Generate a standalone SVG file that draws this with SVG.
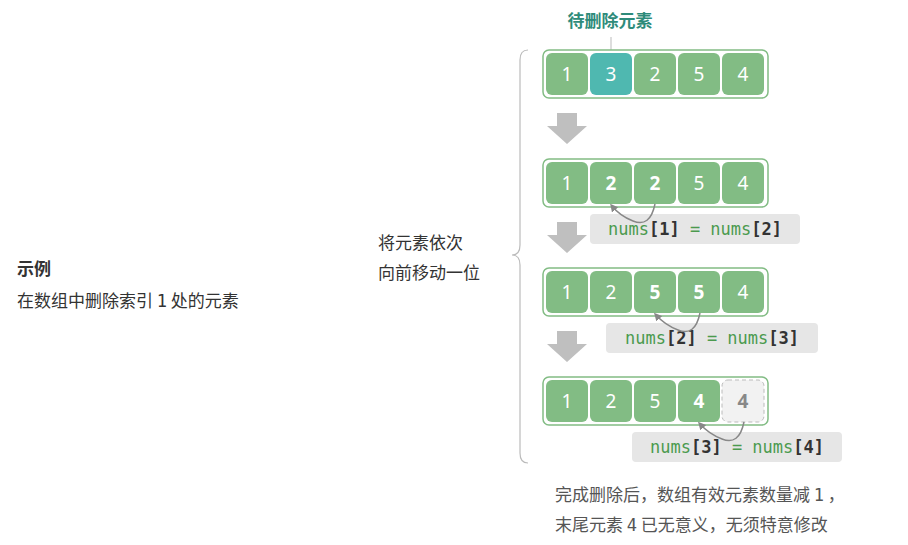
<svg xmlns="http://www.w3.org/2000/svg" width="908" height="545" viewBox="0 0 908 545">
<defs>
<style>
.t{font-family:"Noto Sans CJK SC","Noto Sans",sans-serif;font-size:17px;fill:#333}
.row{fill:#fff;stroke:#82bc84;stroke-width:1.5}
.c{fill:#82bc84}
.n{font-family:"Noto Sans","DejaVu Sans",sans-serif;font-size:19px;fill:#fff;text-anchor:middle}
.b{font-weight:bold}
.lab{fill:#e6e6e6}
.code{font-family:"DejaVu Sans Mono",monospace;font-size:17px;fill:#4b9a4e}
.k{fill:#333;font-weight:bold}
.arc{fill:none;stroke:#888;stroke-width:1.5;marker-end:url(#ah)}
.down{fill:#bfbfbf}
</style>
<marker id="ah" markerWidth="8" markerHeight="8" refX="5" refY="4" orient="auto" markerUnits="userSpaceOnUse"><path d="M0,0 L8,4 L0,8 Z" fill="#888"/></marker>
</defs>
<g id="left">
<text x="17" y="275" class="t b" font-size="19">示例</text>
<text x="17" y="307" class="t">在数组中删除索引 <tspan font-family="DejaVu Sans Mono">1</tspan> 处的元素</text>
</g>
<g id="brace-note">
<path d="M528,50 Q520,50 520,60 L520,245 Q520,255 512,255 Q520,255 520,265 L520,453 Q520,463 528,463" fill="none" stroke="#bbb" stroke-width="1.2"/>
<text x="378" y="249" class="t">将元素依次</text>
<text x="378" y="279" class="t">向前移动一位</text>
</g>
<g id="title">
<text x="610" y="27" class="t b" fill="#2e8b7a" style="fill:#2e8b7a" text-anchor="middle">待删除元素</text>
<line x1="611" y1="37" x2="611" y2="53" stroke="#bbb"/>
</g>
<g id="row1">
<rect x="543" y="50" width="225" height="48" rx="6" class="row"/>
<rect x="546" y="53" width="42" height="42" rx="6" class="c"/><text x="567" y="81" class="n">1</text>
<rect x="590" y="53" width="42" height="42" rx="6" fill="#4fb8b0"/><text x="611" y="81" class="n">3</text>
<rect x="634" y="53" width="42" height="42" rx="6" class="c"/><text x="655" y="81" class="n">2</text>
<rect x="678" y="53" width="42" height="42" rx="6" class="c"/><text x="699" y="81" class="n">5</text>
<rect x="722" y="53" width="42" height="42" rx="6" class="c"/><text x="743" y="81" class="n">4</text>
</g>
<g id="row2">
<rect x="543" y="159" width="225" height="48" rx="6" class="row"/>
<rect x="546" y="162" width="42" height="42" rx="6" class="c"/><text x="567" y="190" class="n">1</text>
<rect x="590" y="162" width="42" height="42" rx="6" class="c"/><text x="611" y="190" class="n b">2</text>
<rect x="634" y="162" width="42" height="42" rx="6" class="c"/><text x="655" y="190" class="n b">2</text>
<rect x="678" y="162" width="42" height="42" rx="6" class="c"/><text x="699" y="190" class="n">5</text>
<rect x="722" y="162" width="42" height="42" rx="6" class="c"/><text x="743" y="190" class="n">4</text>
</g>
<g id="row3">
<rect x="543" y="268" width="225" height="48" rx="6" class="row"/>
<rect x="546" y="271" width="42" height="42" rx="6" class="c"/><text x="567" y="299" class="n">1</text>
<rect x="590" y="271" width="42" height="42" rx="6" class="c"/><text x="611" y="299" class="n">2</text>
<rect x="634" y="271" width="42" height="42" rx="6" class="c"/><text x="655" y="299" class="n b">5</text>
<rect x="678" y="271" width="42" height="42" rx="6" class="c"/><text x="699" y="299" class="n b">5</text>
<rect x="722" y="271" width="42" height="42" rx="6" class="c"/><text x="743" y="299" class="n">4</text>
</g>
<g id="row4">
<rect x="543" y="377" width="225" height="48" rx="6" class="row"/>
<rect x="546" y="380" width="42" height="42" rx="6" class="c"/><text x="567" y="408" class="n">1</text>
<rect x="590" y="380" width="42" height="42" rx="6" class="c"/><text x="611" y="408" class="n">2</text>
<rect x="634" y="380" width="42" height="42" rx="6" class="c"/><text x="655" y="408" class="n">5</text>
<rect x="678" y="380" width="42" height="42" rx="6" class="c"/><text x="699" y="408" class="n b">4</text>
<rect x="722" y="380" width="42" height="42" rx="6" fill="#f2f2f2" stroke="#bbb" stroke-dasharray="4,3"/><text x="743" y="408" class="n b" style="fill:#888">4</text>
</g>
<g id="labels">
<rect x="590" y="214" width="210" height="30" rx="4" class="lab"/>
<text x="695" y="235" class="code" text-anchor="middle">nums<tspan class="k">[1]</tspan> = nums<tspan class="k">[2]</tspan></text>
<rect x="606" y="323" width="212" height="30" rx="4" class="lab"/>
<text x="712" y="344" class="code" text-anchor="middle">nums<tspan class="k">[2]</tspan> = nums<tspan class="k">[3]</tspan></text>
<rect x="632" y="432" width="210" height="30" rx="4" class="lab"/>
<text x="737" y="453" class="code" text-anchor="middle">nums<tspan class="k">[3]</tspan> = nums<tspan class="k">[4]</tspan></text>
</g>
<g id="connectors">
<path d="M655,204 Q650,228 633,221 Q620,216 612,206" class="arc"/>
<path d="M700,313 Q695,337 678,330 Q665,325 656,315" class="arc"/>
<path d="M744,422 Q739,446 722,439 Q709,434 700,424" class="arc"/>
<path d="M557,113 h20 v13 h10 l-20,18 l-20,-18 h10 z" class="down"/>
<path d="M557,222 h20 v13 h10 l-20,18 l-20,-18 h10 z" class="down"/>
<path d="M557,331 h20 v13 h10 l-20,18 l-20,-18 h10 z" class="down"/>
</g>
<g id="note">
<text x="555" y="501" class="t" style="fill:#555">完成删除后，数组有效元素数量减 <tspan font-family="DejaVu Sans Mono">1</tspan> ，</text>
<text x="555" y="531" class="t" style="fill:#555">末尾元素 <tspan font-family="DejaVu Sans Mono">4</tspan> 已无意义，无须特意修改</text>
</g>
</svg>
